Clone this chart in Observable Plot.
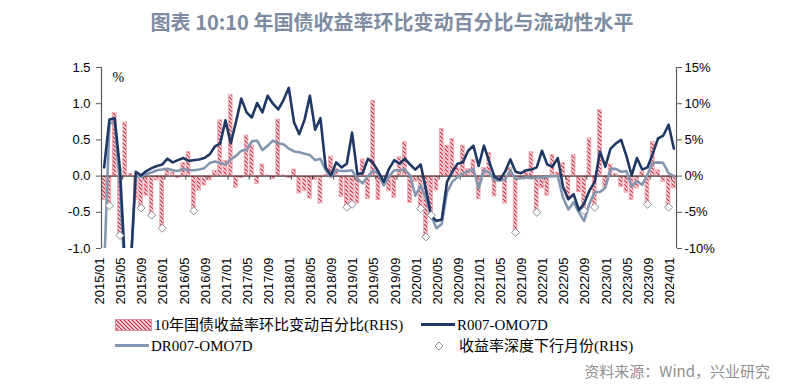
<!DOCTYPE html>
<html><head><meta charset="utf-8">
<script src="https://cdn.jsdelivr.net/npm/d3@7"></script>
<script src="https://cdn.jsdelivr.net/npm/@observablehq/plot@0.6"></script>
<style>
body{margin:0;background:#fff;}
#wrap{position:relative;width:800px;height:391px;overflow:hidden;font-family:"Noto Sans CJK SC",sans-serif;background:#fff;}
#title{position:absolute;left:0;top:8px;width:784px;text-align:center;font-size:20px;font-weight:bold;color:#7d8ca3;line-height:28px;}
#chart{position:absolute;left:0;top:40px;}
.lg{position:absolute;font-family:"Liberation Serif","Noto Sans CJK SC",serif;font-size:15px;color:#000;line-height:20px;white-space:nowrap;}
#source{position:absolute;right:30px;top:360px;font-size:15px;color:#8f8f8f;line-height:22px;white-space:nowrap;}
</style></head>
<body>
<div id="wrap">
  <div id="title">图表 10:10 年国债收益率环比变动百分比与流动性水平</div>
  <div id="chart"></div>
  <svg class="lg" style="left:115px;top:319px" width="37" height="12">
    <defs><pattern id="hatchL" patternUnits="userSpaceOnUse" width="4" height="4">
      <rect width="4" height="4" fill="#fbe0e4"></rect>
      <path d="M-1,-1L5,5M-1,3L1,5M3,-1L5,1" stroke="#c8283f" stroke-width="1.2"></path>
    </pattern></defs>
    <rect x="0.5" y="0.5" width="36" height="11" fill="url(#hatchL)" stroke="#e58b98" stroke-width="1"></rect>
  </svg>
  <div class="lg" style="left:154px;top:315px">10年国债收益率环比变动百分比(RHS)</div>
  <div class="lg" style="left:421px;top:323px;width:34px;height:3px;background:#1f3864"></div>
  <div class="lg" style="left:457px;top:315px">R007-OMO7D</div>
  <div class="lg" style="left:115px;top:344px;width:34px;height:3px;background:#8497b0"></div>
  <div class="lg" style="left:151px;top:336px">DR007-OMO7D</div>
  <svg class="lg" style="left:434px;top:341px" width="10" height="10">
    <path d="M5,1L9,5L5,9L1,5Z" fill="#fff" stroke="#8c8c9c" stroke-width="1"></path>
  </svg>
  <div class="lg" style="left:459px;top:336px">收益率深度下行月份(RHS)</div>
  <div id="source">资料来源：Wind，兴业研究</div>
</div>
<script>
// 10年国债收益率环比变动百分比 (%), monthly 2015/01 - 2024/01 (RHS)
const yieldChange = [
 -3.3,-4.1,8.7,-8.2,7.4,0.3,-3.3,-4.4,-2.7,-5.4,-0.6,-7.2,
 0.8,0.5,-0.3,1.8,3.3,-4.8,-2.0,-1.3,-0.6,0.7,7.7,2.1,
 11.2,-1.6,-0.3,5.6,4.2,-1.1,1.6,0.1,-0.4,7.8,0.1,-0.3,
 0.9,-2.4,-2.1,-3.1,-0.5,-3.8,0.2,2.7,1.0,-2.9,-4.3,-3.9,
 -3.8,2.3,-3.2,10.4,-3.3,-1.1,-2.1,-3.0,2.6,4.7,-3.7,-0.8,
 -4.5,-8.4,-5.4,-2.0,6.5,4.2,5.1,1.1,4.2,1.0,2.2,-3.2,
 1.1,3.2,-2.8,-0.3,-3.8,1.1,-7.8,-0.3,0.8,3.3,-5.0,-1.7,
 -2.7,2.9,0.5,1.8,-3.1,2.9,-2.2,-4.8,5.2,-4.3,9.1,-1.6,
 1.6,0.3,-1.5,-2.3,-3.3,-1.7,0.6,-3.9,4.7,0.8,-0.8,-4.3,
 -1.7
];
// R007-OMO7D (%)
const r007 = [
 0.12,0.78,0.80,0.10,-1.3,-1.3,0.06,0.01,0.07,0.11,0.14,0.16,
 0.24,0.19,0.22,0.25,0.21,0.22,0.23,0.25,0.30,0.41,0.45,0.77,
 0.45,0.75,1.07,0.88,0.81,1.01,0.88,1.11,1.00,0.92,1.05,1.22,
 0.74,0.58,0.78,1.11,0.64,0.80,0.12,0.01,0.19,0.12,0.17,0.60,
 0.03,0.04,0.24,0.18,0.06,-0.08,0.10,0.22,0.17,0.24,0.16,0.09,
 0.16,-0.18,-0.55,-0.62,-0.60,-0.08,0.06,0.17,0.19,0.35,0.42,0.14,
 0.42,0.20,-0.01,-0.05,0.06,0.23,0.06,0.04,0.08,0.09,0.12,0.35,
 0.16,0.13,0.25,-0.15,-0.32,-0.25,-0.47,-0.38,-0.20,-0.08,0.34,0.13,
 0.38,0.45,0.50,0.28,0.01,0.25,0.09,0.12,0.31,0.52,0.56,0.71,
 0.38
];
// DR007-OMO7D (%)
const dr007 = [
 -1.3,0.73,0.74,-0.15,-1.5,-1.3,0.00,-0.01,0.03,0.05,0.08,0.09,
 0.10,0.08,0.07,0.10,0.08,0.08,0.09,0.11,0.18,0.20,0.18,0.16,
 0.23,0.28,0.35,0.36,0.48,0.49,0.36,0.42,0.49,0.45,0.44,0.38,
 0.34,0.33,0.31,0.29,0.22,0.24,0.08,-0.01,0.08,0.07,0.07,0.08,
 -0.04,-0.10,0.00,0.08,0.03,-0.13,0.00,0.08,0.08,0.09,0.01,-0.27,
 -0.13,-0.31,-0.55,-0.72,-0.66,-0.22,-0.08,-0.01,0.03,0.07,0.10,-0.17,
 0.08,0.05,-0.06,-0.06,-0.05,0.08,-0.04,-0.03,-0.02,-0.03,-0.02,-0.02,
 -0.01,0.00,0.00,-0.30,-0.46,-0.36,-0.50,-0.62,-0.38,-0.22,-0.22,-0.16,
 0.10,0.10,0.06,0.07,-0.14,-0.07,-0.12,0.02,0.18,0.19,0.18,0.04,
 0.00
];
// 收益率深度下行月份
const deepDownMonths = ["2015/02","2015/04","2015/08","2015/10","2015/12","2016/06",
 "2018/11","2018/12","2020/01","2020/02","2020/03","2021/07","2021/11",
 "2022/08","2022/10","2023/08","2023/12"];
const tickLabels = ["2015/01","2015/05","2015/09","2016/01","2016/05","2016/09","2017/01",
 "2017/05","2017/09","2018/01","2018/05","2018/09","2019/01","2019/05","2019/09","2020/01",
 "2020/05","2020/09","2021/01","2021/05","2021/09","2022/01","2022/05","2022/09","2023/01",
 "2023/05","2023/09","2024/01"];
const leftTicks = [-1.0,-0.5,0,0.5,1.0,1.5];
const rightTicks = [-10,-5,0,5,10,15];

const months = yieldChange.map((_, i) => `${2015 + Math.floor(i / 12)}/${String(i % 12 + 1).padStart(2, "0")}`);
const data = months.map((m, i) => ({i, m, bar: yieldChange[i], r: r007[i], dr: dr007[i]}));
const deep = data.filter(d => deepDownMonths.includes(d.m));
const tickIdx = tickLabels.map(t => months.indexOf(t));

const axisColor = "#595959";
const chart = Plot.plot({
  width: 800, height: 270,
  marginTop: 27, marginBottom: 62, marginLeft: 101, marginRight: 124,
  style: {fontFamily: "'Liberation Sans', Arial, sans-serif", fontSize: "13px", color: "#000", background: "transparent", overflow: "visible"},
  x: {type: "linear", domain: [-0.5, months.length - 0.5], axis: null},
  y: {domain: [-1, 1.5]},
  marks: [
    Plot.rect(data, {x1: d => d.i - 0.36, x2: d => d.i + 0.36, y1: 0, y2: d => d.bar / 10,
      fill: "url(#hatch)", stroke: "#f0a3ad", strokeWidth: 0.8}),
    Plot.ruleY([0], {stroke: "#4a3a3a", strokeWidth: 1.2}),
    Plot.ruleX(tickIdx.map(i => i - 0.5), {y1: 0, y2: -0.055, stroke: "#4a3a3a"}),
    Plot.ruleX([-0.5, months.length - 0.5], {stroke: axisColor, strokeWidth: 1.2}),
    Plot.axisY({anchor: "left", ticks: leftTicks, tickFormat: d => d.toFixed(1), tickSize: 5, tickPadding: 6, stroke: axisColor, label: null}),
    Plot.axisY({anchor: "right", ticks: rightTicks.map(v => v / 10), tickFormat: d => `${Math.round(d * 10)}%`, tickSize: 5, tickPadding: 3, stroke: axisColor, label: null}),
    Plot.line(data, {x: "i", y: "dr", stroke: "#8497b0", strokeWidth: 2.6, clip: true}),
    Plot.line(data, {x: "i", y: "r", stroke: "#1f3864", strokeWidth: 2.6, clip: true}),
    Plot.dot(deep, {x: "i", y: d => d.bar / 10, symbol: "diamond2", r: 3.6, fill: "white", stroke: "#8c8c9c", strokeWidth: 1}),
    Plot.text(tickIdx, {x: d => d, text: d => months[d], frameAnchor: "bottom", rotate: -90, textAnchor: "end", dy: 9, fontSize: 13}),
    Plot.text(["%"], {frameAnchor: "top-left", text: d => d, dx: 11, dy: 5, textAnchor: "start", fontFamily: "'Liberation Serif', serif", fontSize: 14})
  ]
});
const defs = d3.select(chart).insert("defs", ":first-child");
const pat = defs.append("pattern").attr("id", "hatch").attr("patternUnits", "userSpaceOnUse").attr("width", 4).attr("height", 4);
pat.append("rect").attr("width", 4).attr("height", 4).attr("fill", "#fbe0e4");
pat.append("path").attr("d", "M-1,-1L5,5M-1,3L1,5M3,-1L5,1").attr("stroke", "#c8283f").attr("stroke-width", 1.2);
document.getElementById("chart").appendChild(chart);
</script>
</body></html>
